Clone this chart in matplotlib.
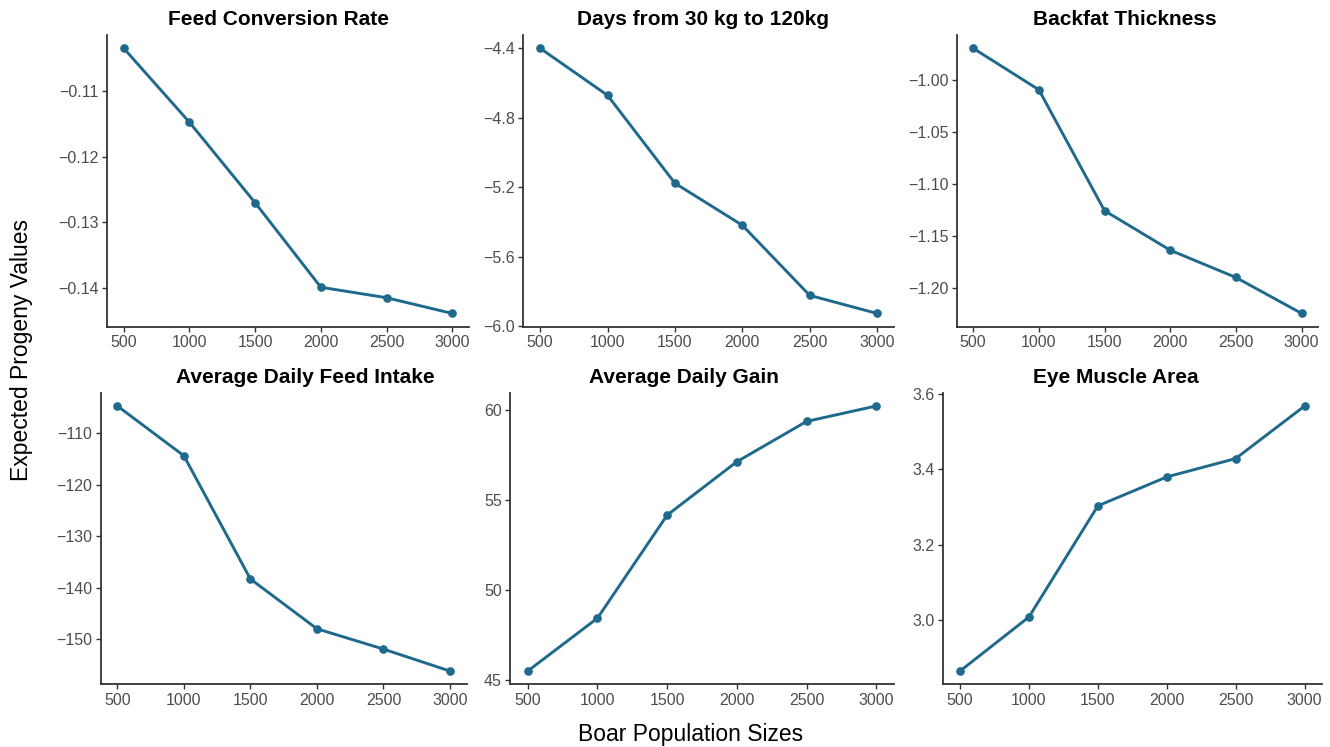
import matplotlib
matplotlib.use("Agg")
import matplotlib.pyplot as plt
from matplotlib.ticker import FixedLocator, FuncFormatter

plt.rcParams['font.family'] = ['Liberation Sans', 'DejaVu Sans']
plt.rcParams['axes.unicode_minus'] = True

pop_sizes = [500, 1000, 1500, 2000, 2500, 3000]
x_ticks = [500, 1000, 1500, 2000, 2500, 3000]

fcr = [-0.1034, -0.1147, -0.1270, -0.1399, -0.1415, -0.1439]
days = [-4.400, -4.671, -5.177, -5.419, -5.823, -5.927]
backfat = [-0.9698, -1.0096, -1.1257, -1.1636, -1.1898, -1.2243]
adfi = [-104.66, -114.33, -138.26, -147.93, -151.88, -156.14]
adg = [45.50, 48.44, 54.17, 57.14, 59.38, 60.24]
ema = [2.863, 3.007, 3.303, 3.380, 3.429, 3.569]

titles = ["Feed Conversion Rate", "Days from 30 kg to 120kg", "Backfat Thickness",
          "Average Daily Feed Intake", "Average Daily Gain", "Eye Muscle Area"]
series = [fcr, days, backfat, adfi, adg, ema]
y_ticks = [[-0.11, -0.12, -0.13, -0.14],
           [-4.4, -4.8, -5.2, -5.6, -6.0],
           [-1.00, -1.05, -1.10, -1.15, -1.20],
           [-110, -120, -130, -140, -150],
           [45, 50, 55, 60],
           [3.0, 3.2, 3.4, 3.6]]
y_dec = [2, 1, 2, 0, 0, 1]

W, H = 1330, 747
# pixel boxes (left, top, right, bottom)
boxes = [(107.3, 35, 468.7, 326.7),
         (523.3, 35, 893.9, 326.7),
         (956.7, 35, 1318.1, 326.7),
         (100.7, 392.7, 466.6, 684.3),
         (510.3, 392.7, 893.7, 684.3),
         (942.8, 392.7, 1321.9, 684.3)]
title_cx = [279, 703, 1124.5, 305, 684, 1116]

color = '#1F6A8C'
axis_col = '#333333'
fig = plt.figure(figsize=(W / 100, H / 100), dpi=100)


def make_fmt(d):
    def f(v, pos):
        s = f"{v:.{d}f}"
        return s.replace('-', '\u2212')
    return FuncFormatter(f)


for i in range(6):
    l, t, r, b = boxes[i]
    ax = fig.add_axes([l / W, 1 - b / H, (r - l) / W, (b - t) / H])
    vals = series[i]
    ax.plot(pop_sizes, vals, color=color, lw=2.1, marker='o', ms=5.2, zorder=3,
            solid_capstyle='round')
    xr = max(pop_sizes) - min(pop_sizes)
    ax.set_xlim(min(pop_sizes) - 0.05 * xr, max(pop_sizes) + 0.05 * xr)
    yr = max(vals) - min(vals)
    ax.set_ylim(min(vals) - 0.05 * yr, max(vals) + 0.05 * yr)
    ax.xaxis.set_major_locator(FixedLocator(x_ticks))
    ax.yaxis.set_major_locator(FixedLocator(y_ticks[i]))
    ax.yaxis.set_major_formatter(make_fmt(y_dec[i]))
    for s in ['top', 'right']:
        ax.spines[s].set_visible(False)
    for s in ['left', 'bottom']:
        ax.spines[s].set_color(axis_col)
        ax.spines[s].set_linewidth(1.3)
    ax.tick_params(axis='both', labelsize=11.5, colors=axis_col, labelcolor='#4D4D4D',
                   length=3.5, width=1.0, pad=2.5)
    ax.set_title(titles[i], fontsize=15, fontweight='bold', color='black', pad=7,
                 x=(title_cx[i] - l) / (r - l), ha='center')

fig.text(22 / W, 1 - 350 / H, "Expected Progeny Values", rotation=90,
         ha='center', va='center', fontsize=16.5, color='black')
fig.text(691 / W, 1 - 734 / H, "Boar Population Sizes", ha='center', va='center',
         fontsize=16.5, color='black')

fig.savefig("out.png", dpi=100, facecolor='white')
